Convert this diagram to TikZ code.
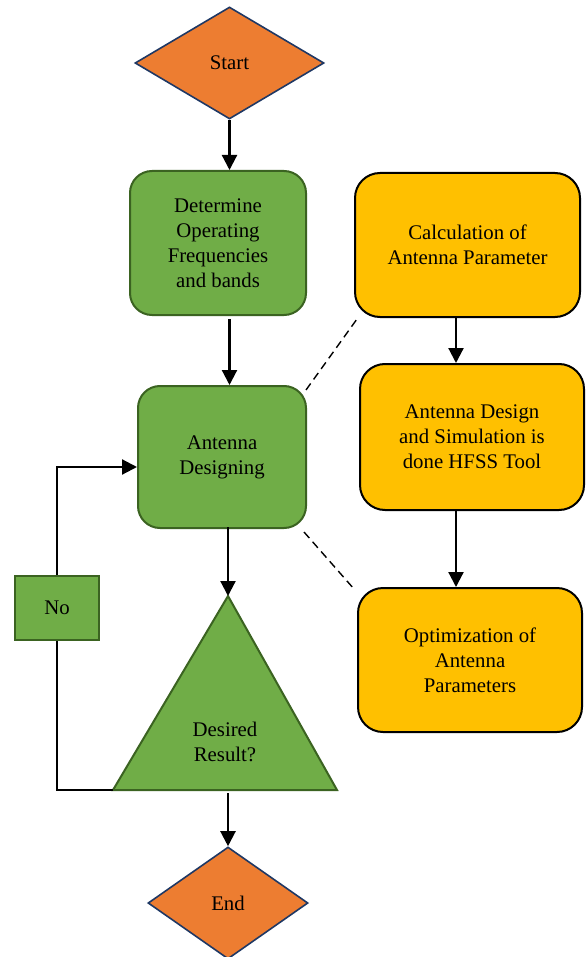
\documentclass[tikz,border=0pt]{standalone}
\usepackage{fontspec}
\setmainfont{Liberation Serif}
\usetikzlibrary{shapes.geometric,arrows.meta,calc}
\definecolor{orangeF}{HTML}{ED7D31}
\definecolor{navyB}{HTML}{1F3864}
\definecolor{greenF}{HTML}{70AD47}
\definecolor{greenB}{HTML}{3B6321}
\definecolor{yellowF}{HTML}{FFC000}
\begin{document}
\begin{tikzpicture}[x=1pt,y=-1pt,
 txt/.style={font=\fontsize{20.8}{25}\selectfont, align=center},
 term/.style={diamond, draw=navyB, fill=orangeF, line width=1.6pt, inner sep=0pt, txt},
 gbox/.style={rectangle, rounded corners=22pt, draw=greenB, fill=greenF, line width=2pt, txt},
 ybox/.style={rectangle, rounded corners=25pt, draw=black, fill=yellowF, line width=2pt, txt},
 arr/.style={line width=2.2pt, -{Triangle[length=15pt,width=15pt]}},
 ln/.style={line width=2.2pt},
 dsh/.style={line width=1.4pt, dash pattern=on 8pt off 5pt}]
\useasboundingbox (0,0) rectangle (587,957);
\node[term, minimum width=189pt, minimum height=112pt] (start) at (229.5,63) {Start};
\node[gbox, minimum width=176pt, minimum height=144pt] (det) at (218,243) {Determine\\Operating\\Frequencies\\and bands};
\node[gbox, minimum width=168pt, minimum height=142pt] (ad) at (222,457) {Antenna\\Designing};
\node[ybox, minimum width=225pt, minimum height=144pt] (calc) at (467.5,245) {Calculation of\\Antenna Parameter};
\node[ybox, minimum width=224pt, minimum height=146pt] (sim) at (472,437) {Antenna Design\\and Simulation is\\done HFSS Tool};
\node[ybox, minimum width=224pt, minimum height=144pt] (opt) at (470,660) {Optimization of\\Antenna\\Parameters};
\node[gbox, rounded corners=0pt, minimum width=84pt, minimum height=64pt] (no) at (57,608) {No};
\coordinate (tapex) at (228,596);
\coordinate (tl) at (113,790);
\coordinate (tr) at (337,790);
\coordinate (yax) at (456,0);
\draw[draw=greenB, fill=greenF, line width=2pt, line join=miter] (tapex) -- (tr) -- (tl) -- cycle;
\node[txt] (dr) at (225,742) {Desired\\Result?};
\node[term, minimum width=160pt, minimum height=112pt] (end) at (228,903) {End};
\draw[arr] (start.south) -- (start.south |- det.north);
\draw[arr] ($(det.south -| start.south)+(0,3)$) -- (ad.north -| start.south);
\draw[arr] ($(ad.south -| tapex)+(0,-2)$) -- (tapex);
\draw[arr] ($(end.north |- tl)+(0,3)$) -- (end.north);
\draw[arr] (calc.south -| yax) -- (sim.north -| yax);
\draw[arr] (sim.south -| yax) -- (opt.north -| yax);
\draw[ln] (tl) -| (no.south);
\draw[arr] (no.north) |- ($(ad.west)+(0,10)$);
\draw[dsh] ($(ad.north east)+(-1,5)$) -- ($(calc.south west)+(3,1)$);
\draw[dsh] ($(ad.south east)+(-3,3)$) -- ($(opt.north west)+(-3,2)$);
\end{tikzpicture}
\end{document}
